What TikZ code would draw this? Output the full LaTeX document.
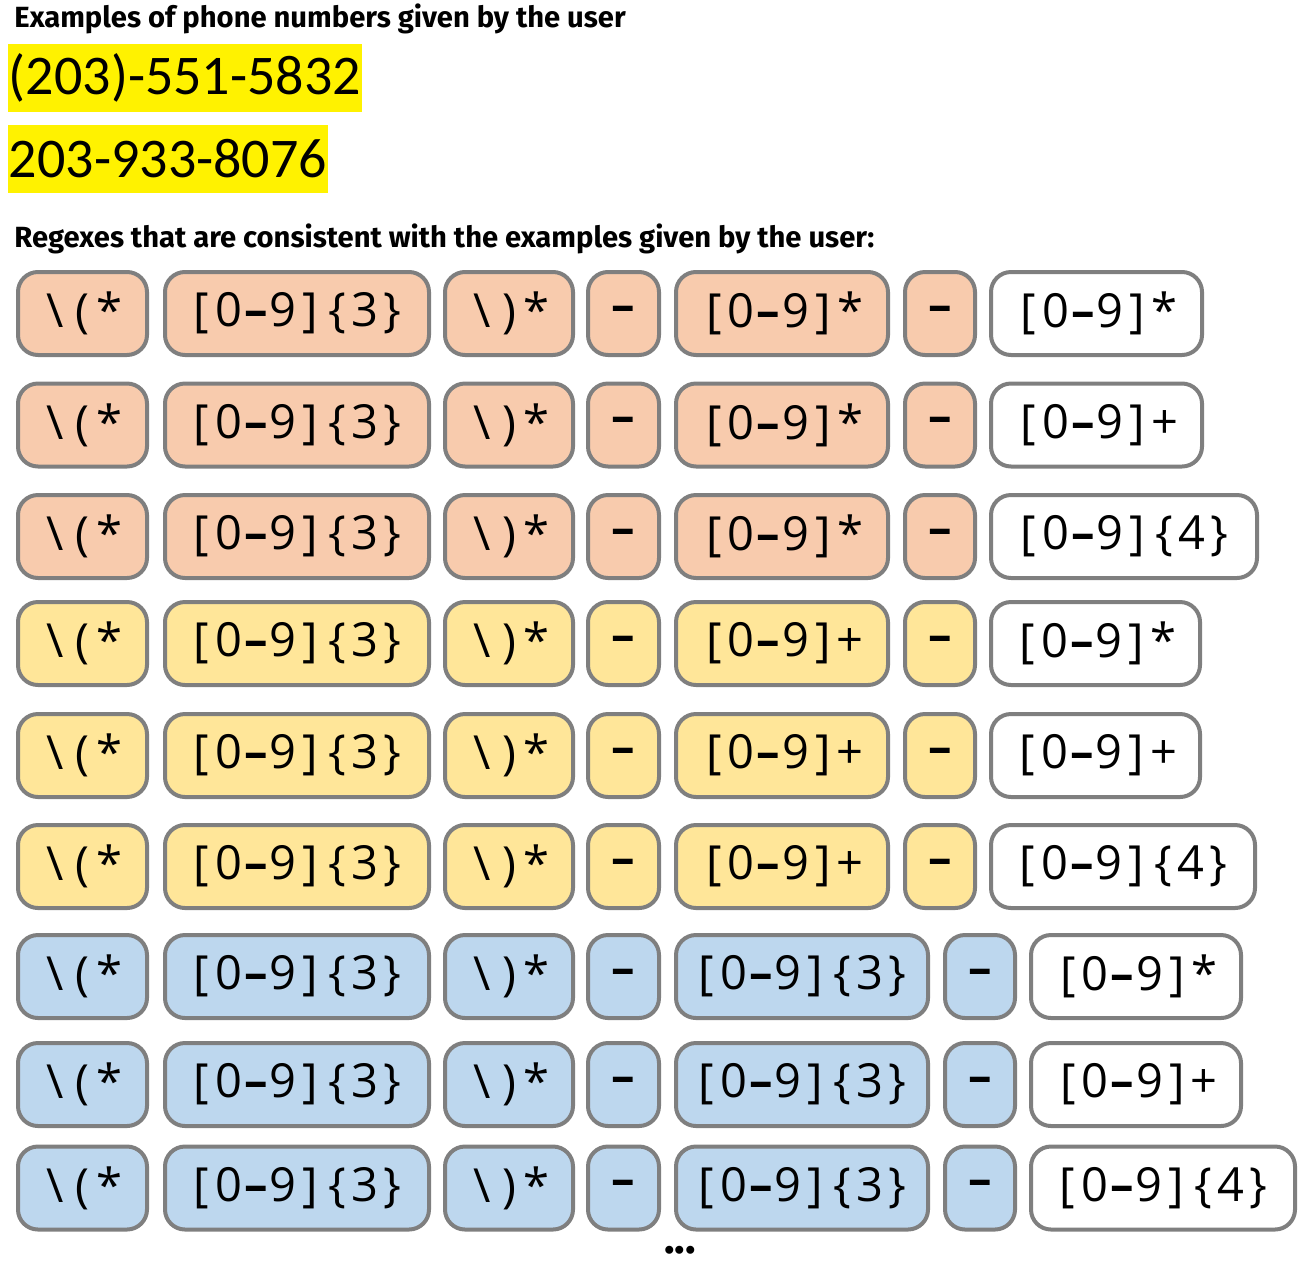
\documentclass[tikz,border=0pt]{standalone}
\usepackage{fontspec}
\setmainfont{Fira Sans}
\newfontfamily\rxfont{Open Sans}
\newfontfamily\numfont{Carlito}

\definecolor{peach}{HTML}{F8CBAD}
\definecolor{butter}{HTML}{FFE699}
\definecolor{sky}{HTML}{BDD7EE}
\definecolor{boxgray}{HTML}{7F7F7F}

% every character of a regex in a cell of its own
\makeatletter
\newcommand{\rxcells}[1]{\@tfor\rx@c:=#1\do{\makebox[0.58em]{\rx@c}}}
\makeatother
\newcommand{\rxdash}{{\bfseries –}}

\tikzset{
  rxcell/.style={draw=boxgray, line width=2pt, rounded corners=10pt,
    minimum height=41.5pt, inner sep=0pt,
    font=\rxfont\fontsize{23.5pt}{24pt}\selectfont},
  heading/.style={anchor=base west, inner sep=0pt,
    font=\bfseries\fontsize{14.6pt}{15pt}\selectfont},
  sample/.style={fill=yellow, inner sep=0pt, minimum height=34pt,
    font=\numfont\fontsize{28pt}{28pt}\selectfont}
}

% one box of a regex: name, left, right, y, fill, text (x and y in pixels)
\newcommand{\rxbox}[6]{%
  \node[rxcell, fill=#5, minimum width={((#3)-(#2)-4)*0.5pt}]
    (#1) at ({((#2)+(#3))/2},#4) {\rxcells{#6}};}

% one regex row: id, y, fill, 5th part, its right edge, last part, its right edge
\newcommand{\rxrow}[7]{%
  \rxbox{r#1a}{16}{149}{#2}{#3}{\textbackslash(*}
  \rxbox{r#1b}{163}{431}{#2}{#3}{[0\rxdash9]\{3\}}
  \rxbox{r#1c}{443}{575}{#2}{#3}{\textbackslash)*}
  \rxbox{r#1d}{586}{661}{#2}{#3}{\rxdash}
  \rxbox{r#1e}{674}{#5}{#2}{#3}{#4}
  \rxbox{r#1f}{#5+13}{#5+87}{#2}{#3}{\rxdash}
  \rxbox{r#1g}{#5+99}{#7}{#2}{white}{#6}}

\begin{document}
\begin{tikzpicture}[x=0.5pt, y=-0.5pt]
  \useasboundingbox (0,0) rectangle (1310,1264);

  % Examples
  \node[heading] (title) at (14,27) {Examples of phone numbers given by the user};
  \node[sample, minimum width=177pt] (num1) at (185,78) {(203)-551-5832};
  \node[sample, minimum width=160pt] (num2) at (168,159) {203-933-8076};

  % Regexes
  \node[heading] (subtitle) at (14,247) {Regexes that are consistent with the examples given by the user:};

  \rxrow{1}{313.5}{peach}{[0\rxdash9]*}{890}{[0\rxdash9]*}{1204}
  \rxrow{2}{425}{peach}{[0\rxdash9]*}{890}{[0\rxdash9]+}{1204}
  \rxrow{3}{536.5}{peach}{[0\rxdash9]*}{890}{[0\rxdash9]\{4\}}{1259}
  \rxrow{4}{643.5}{butter}{[0\rxdash9]+}{890}{[0\rxdash9]*}{1202}
  \rxrow{5}{755.5}{butter}{[0\rxdash9]+}{890}{[0\rxdash9]+}{1202}
  \rxrow{6}{866.5}{butter}{[0\rxdash9]+}{890}{[0\rxdash9]\{4\}}{1257}
  \rxrow{7}{976.5}{sky}{[0\rxdash9]\{3\}}{930}{[0\rxdash9]*}{1243}
  \rxrow{8}{1084.5}{sky}{[0\rxdash9]\{3\}}{930}{[0\rxdash9]+}{1243}
  \rxrow{9}{1188}{sky}{[0\rxdash9]\{3\}}{930}{[0\rxdash9]\{4\}}{1297}

  \node[font=\bfseries\fontsize{22pt}{22pt}\selectfont, inner sep=0pt] (more) at (680,1250) {...};
\end{tikzpicture}
\end{document}
